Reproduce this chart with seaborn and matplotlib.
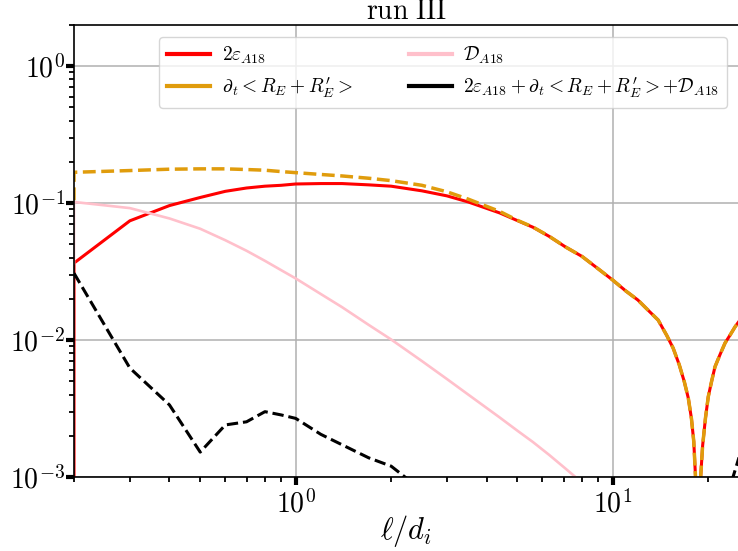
import numpy as np
import matplotlib
matplotlib.use("Agg")
import matplotlib.pyplot as plt
import seaborn as sns
from matplotlib.ticker import FuncFormatter, LogLocator, NullFormatter

plt.rcParams['mathtext.fontset'] = 'cm'

# scale l/d_i (first value repeated: the curves start with a vertical jump on the left edge)
ell = [0.2, 0.2, 0.3, 0.4, 0.5, 0.6, 0.7, 0.8, 0.9,
       1.0, 1.2, 1.4, 1.7, 2.0, 2.5, 3.0, 3.5, 4.4,
       5.0, 5.6, 6.3, 7.1, 8.0, 9.0, 10.0,
       11.0, 12.0, 13.0, 13.9, 14.8, 15.5, 16.2, 16.8, 17.3, 17.7,
       18.0, 18.3, 18.6, 18.9, 19.2, 19.6, 20.0,
       20.5, 21.0, 21.8, 22.6, 23.5, 24.3, 25.0]

# 2 eps_A18
eps2 = [1e-4, 0.0365, 0.0743, 0.096, 0.110, 0.122, 0.129, 0.133, 0.135,
        0.138, 0.139, 0.139, 0.136, 0.133, 0.123, 0.113, 0.102, 0.0848,
        0.0746, 0.0667, 0.0572, 0.0478, 0.0408, 0.0331, 0.0274,
        0.0228, 0.0196, 0.0163, 0.0140, 0.0108, 0.00873, 0.0066, 0.00498, 0.00377, 0.00267,
        0.00182, 0.00084, 2e-5, 0.00095, 0.0017, 0.0027, 0.00386,
        0.00502, 0.00638, 0.00787, 0.00953, 0.0110, 0.0125, 0.0137]

# d_t < R_E + R'_E >
dtR = [0.105, 0.168, 0.173, 0.177, 0.178, 0.178, 0.176, 0.174, 0.170,
       0.167, 0.162, 0.158, 0.152, 0.146, 0.135, 0.121, 0.107, 0.087,
       0.0750, 0.0669, 0.0573, 0.0478, 0.0408, 0.0331, 0.0274,
       0.0228, 0.0196, 0.0163, 0.0140, 0.0108, 0.00873, 0.0066, 0.00498, 0.00377, 0.00267,
       0.00182, 0.00084, 2e-5, 0.00095, 0.0017, 0.0027, 0.00386,
       0.00502, 0.00638, 0.00787, 0.00953, 0.0110, 0.0125, 0.0137]

# D_A18
dA18 = [0.0365, 0.102, 0.092, 0.0773, 0.0650, 0.0536, 0.0449, 0.0379, 0.0324,
        0.0282, 0.0217, 0.0174, 0.0129, 0.0101, 0.00703, 0.00519, 0.0040, 0.00272,
        0.00218, 0.0018, 0.00145, 0.00115, 0.00091, 0.00072, 0.00059,
        0.00047, 0.00038, 0.00032, 0.00027, 0.00023, 0.00021, 0.00019, 0.00017, 0.00016, 0.00015,
        0.00015, 0.00014, 0.00014, 0.00013, 0.00013, 0.00012, 0.00012,
        0.00011, 0.0001, 9e-5, 8e-5, 7e-5, 6e-5, 5e-5]

# sum of the three
total = [0.0308, 0.0308, 0.00625, 0.00336, 0.00152, 0.0024, 0.00253, 0.0030, 0.00284,
         0.00268, 0.00205, 0.00172, 0.00138, 0.0012, 0.0008, 0.0006, 0.0005, 0.0004,
         0.0004, 0.0004, 0.0004, 0.0004, 0.0004, 0.0004, 0.0004,
         0.0004, 0.0004, 0.0004, 0.0004, 0.0004, 0.0004, 0.0004, 0.0004, 0.0004, 0.0004,
         0.0004, 0.0004, 0.0004, 0.0004, 0.0004, 0.0004, 0.0004,
         0.0004, 0.0004, 0.0004, 0.0004, 0.00087, 0.00112, 0.00139]

labels = [r'$2\varepsilon_{A18}$',
          r'$\partial_t < R_E + R^{\prime}_E >$',
          r'$\mathcal{D}_{A18}$',
          r'$2\varepsilon_{A18} + \partial_t < R_E + R^{\prime}_E > + \mathcal{D}_{A18}$']

fig = plt.figure(figsize=(7.38, 5.51), dpi=100)
ax = fig.add_axes([74 / 738, 1 - 477 / 551, 665 / 738, 452 / 551])

sns.lineplot(x=ell, y=eps2, ax=ax, color='red', linewidth=2.2, label=labels[0],
             estimator=None, sort=False)
sns.lineplot(x=ell, y=dtR, ax=ax, color='#e09c0c', linewidth=2.5, linestyle='--',
             label=labels[1], estimator=None, sort=False)
sns.lineplot(x=ell, y=dA18, ax=ax, color='pink', linewidth=1.9, label=labels[2],
             estimator=None, sort=False)
sns.lineplot(x=ell, y=total, ax=ax, color='black', linewidth=2.2, linestyle='--',
             label=labels[3], estimator=None, sort=False)

ax.set_xscale('log')
ax.set_yscale('log')
ax.set_xlim(0.2, 25)
ax.set_ylim(1e-3, 2)

fmt = FuncFormatter(lambda v, p: r'$10^{%d}$' % int(round(np.log10(v))))
ax.xaxis.set_major_formatter(fmt)
ax.yaxis.set_major_formatter(fmt)
ax.xaxis.set_minor_formatter(NullFormatter())
ax.yaxis.set_minor_locator(LogLocator(base=10, subs=np.arange(2, 10)))
ax.tick_params(which='major', length=6, width=3, labelsize=20)
ax.tick_params(axis='y', which='major', pad=0.5)
ax.tick_params(which='minor', length=3.5, width=1.3)
ax.grid(True, which='major', color='#b0b0b0', linewidth=1.1)
for s in ax.spines.values():
    s.set_linewidth(1.2)

ax.set_xlabel(r'$\ell/d_i$', fontsize=22, labelpad=-4)
ax.set_ylabel('')
ax.set_title(r'$\mathrm{run\ III}$', fontsize=20, pad=4)

leg = ax.legend(ncol=2, loc='upper right', fontsize=14, borderaxespad=0.6,
                columnspacing=2.9, handlelength=2.2, handletextpad=0.6)
for h in leg.get_lines():
    h.set_linestyle('-')
    h.set_linewidth(3)

fig.savefig('out.png', dpi=100)
